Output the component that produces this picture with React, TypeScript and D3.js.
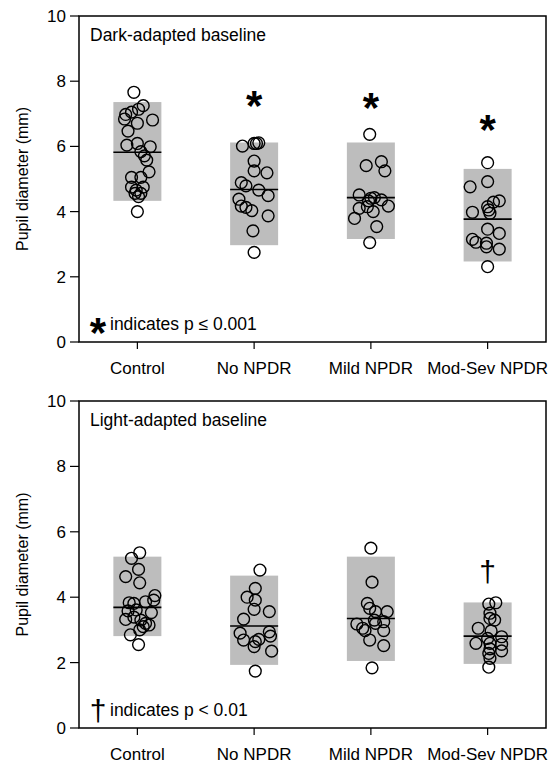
import * as d3 from "d3";

const categories = ["Control", "No NPDR", "Mild NPDR", "Mod-Sev NPDR"];
const yTicks = [0, 2, 4, 6, 8, 10];

// dark-adapted: box range and median per group
const darkHigh = [7.36, 6.12, 6.12, 5.31];
const darkLow = [4.33, 2.97, 3.16, 2.47];
const darkMedian = [5.82, 4.68, 4.43, 3.77];
const darkSig = [false, true, true, true];
const darkSigAt = [0, 7.5, 7.45, 6.75];

// [value, jitter in group units]
const darkControl = [[7.66, -0.03], [7.25, 0.05], [7.14, 0.01], [7.05, -0.05], [6.98, -0.1], [6.84, -0.11], [6.81, 0.13], [6.71, 0.0], [6.47, -0.08], [6.04, -0.09], [6.09, 0.0], [5.99, 0.11], [5.84, 0.03], [5.71, 0.06], [5.58, 0.08], [5.22, 0.1], [5.05, 0.03], [5.05, -0.05], [4.75, -0.05], [4.75, 0.05], [4.66, -0.01], [4.56, 0.03], [4.56, -0.02], [4.46, 0.01], [4.0, 0.0]];
const darkNo = [[6.01, -0.1], [6.09, 0.0], [6.11, 0.04], [6.09, 0.02], [5.55, 0.0], [5.25, 0.0], [5.19, 0.11], [4.89, -0.11], [4.79, -0.07], [4.66, 0.04], [4.49, 0.12], [4.38, -0.13], [4.17, -0.11], [4.13, -0.07], [4.03, -0.02], [3.87, 0.12], [3.41, -0.01], [2.75, 0.0]];
const darkMild = [[6.37, -0.01], [5.41, -0.04], [5.53, 0.09], [5.25, 0.12], [4.51, -0.1], [4.41, 0.0], [4.33, -0.02], [4.36, 0.09], [4.43, 0.03], [4.17, 0.15], [4.1, -0.1], [4.15, -0.03], [4.0, 0.02], [3.79, -0.14], [3.54, 0.05], [3.05, -0.01]];
const darkModSev = [[5.5, 0.0], [4.92, 0.0], [4.76, -0.15], [4.33, 0.1], [4.29, 0.05], [4.15, 0.0], [4.05, 0.01], [3.98, -0.13], [3.95, 0.02], [3.46, 0.0], [3.33, 0.1], [3.15, -0.13], [3.06, -0.1], [3.03, -0.01], [2.92, -0.01], [2.85, 0.1], [2.31, 0.0]];

// light-adapted
const lightHigh = [5.24, 4.66, 5.24, 3.84];
const lightLow = [2.81, 1.93, 2.05, 1.96];
const lightMedian = [3.69, 3.12, 3.35, 2.81];
const lightSig = [false, false, false, true];
const lightSigAt = [0, 0, 0, 4.8];

const lightControl = [[5.36, 0.02], [5.19, -0.05], [4.85, 0.01], [4.63, -0.1], [4.44, 0.02], [4.05, 0.15], [3.91, 0.14], [3.83, -0.07], [3.81, -0.03], [3.86, 0.07], [3.58, -0.08], [3.61, -0.01], [3.53, 0.12], [3.32, -0.1], [3.39, -0.03], [3.3, 0.03], [3.2, 0.07], [3.15, 0.1], [3.1, 0.05], [3.0, 0.02], [2.85, -0.06], [2.55, 0.01]];
const lightNo = [[4.83, 0.05], [4.27, 0.01], [4.0, -0.06], [3.91, 0.01], [3.63, 0.0], [3.56, 0.13], [3.33, -0.09], [2.9, -0.12], [2.94, 0.13], [2.81, 0.14], [2.69, -0.09], [2.71, 0.04], [2.64, 0.01], [2.49, 0.0], [2.35, 0.15], [1.74, 0.01]];
const lightMild = [[5.5, 0.0], [4.46, 0.01], [3.81, -0.03], [3.66, -0.01], [3.56, 0.04], [3.56, 0.14], [3.3, 0.03], [3.25, 0.11], [3.2, 0.04], [3.18, -0.12], [3.05, -0.07], [2.98, -0.05], [2.98, 0.11], [2.69, -0.01], [2.52, 0.11], [1.84, 0.01]];
const lightModSev = [[3.83, 0.07], [3.79, 0.01], [3.51, 0.02], [3.3, 0.06], [3.35, 0.02], [3.05, -0.08], [2.97, 0.03], [2.79, 0.12], [2.74, 0.0], [2.59, -0.1], [2.59, 0.02], [2.56, 0.12], [2.42, 0.02], [2.36, 0.12], [2.28, 0.01], [2.13, 0.02], [1.86, 0.01]];

const font = "'Liberation Sans', Arial, sans-serif";
const W = 555, H = 763;
const left = 79, right = 546;

type PanelProps = {
  top: number; bottom: number; title: string;
  high: number[]; low: number[]; median: number[];
  points: number[][][]; sig: boolean[]; sigAt: number[];
  mark: string; note: string;
};

const Panel = (p: PanelProps) => {
  const x = d3.scaleLinear().domain([0.5, 4.5]).range([left, right]);
  const y = d3.scaleLinear().domain([0, 10]).range([p.bottom, p.top]);
  const bw = 48;
  const isStar = p.mark === "*";
  return (
    <g fontFamily={font}>
      {categories.map((c, i) => (
        <g key={c}>
          <rect x={x(i + 1) - bw / 2} y={y(p.high[i])} width={bw} height={y(p.low[i]) - y(p.high[i])} fill="#bdbdbd" />
          <line x1={x(i + 1) - bw / 2} x2={x(i + 1) + bw / 2} y1={y(p.median[i])} y2={y(p.median[i])} stroke="#000" strokeWidth={1.6} />
          {p.points[i].map(([v, dx], j) => (
            <circle key={j} cx={x(i + 1 + dx)} cy={y(v)} r={5.9} fill="none" stroke="#000" strokeWidth={1.4} />
          ))}
          {p.sig[i] && (
            <text x={x(i + 1)} y={y(p.sigAt[i])} textAnchor="middle" dominantBaseline="central"
              fontSize={isStar ? 42 : 30} fontWeight={isStar ? "bold" : "normal"} dy={isStar ? 8 : 0}>{p.mark}</text>
          )}
          <line x1={x(i + 1)} x2={x(i + 1)} y1={p.bottom} y2={p.bottom + 7} stroke="#000" strokeWidth={1.2} />
          <text x={x(i + 1)} y={p.bottom + 32} textAnchor="middle" fontSize={17}>{c}</text>
        </g>
      ))}
      <rect x={left} y={p.top} width={right - left} height={p.bottom - p.top} fill="none" stroke="#000" strokeWidth={1.5} />
      {yTicks.map(t => (
        <g key={t}>
          <line x1={left - 9} x2={left} y1={y(t)} y2={y(t)} stroke="#000" strokeWidth={1.2} />
          <text x={left - 13} y={y(t)} dy="0.35em" textAnchor="end" fontSize={17}>{t}</text>
        </g>
      ))}
      <text transform={`translate(22,${(p.top + p.bottom) / 2}) rotate(-90)`} textAnchor="middle" dy="0.35em" fontSize={16}>Pupil diameter (mm)</text>
      <text x={left + 11} y={p.top + 25} fontSize={17.5}>{p.title}</text>
      <text x={98} y={p.bottom - 18} textAnchor="middle" dominantBaseline="central"
        fontSize={isStar ? 42 : 30} fontWeight={isStar ? "bold" : "normal"} dy={isStar ? 8 : 0}>{p.mark}</text>
      <text x={110} y={p.bottom - 12} fontSize={17.5}>{p.note}</text>
    </g>
  );
};

export default function App() {
  return (
    <svg width={W} height={H} style={{ position: "absolute", left: 0, top: 0, background: "#fff" }}>
      <Panel top={16} bottom={342} title="Dark-adapted baseline"
        high={darkHigh} low={darkLow} median={darkMedian}
        points={[darkControl, darkNo, darkMild, darkModSev]}
        sig={darkSig} sigAt={darkSigAt} mark="*" note="indicates p ≤ 0.001" />
      <Panel top={401} bottom={728} title="Light-adapted baseline"
        high={lightHigh} low={lightLow} median={lightMedian}
        points={[lightControl, lightNo, lightMild, lightModSev]}
        sig={lightSig} sigAt={lightSigAt} mark="†" note="indicates p < 0.01" />
    </svg>
  );
}
